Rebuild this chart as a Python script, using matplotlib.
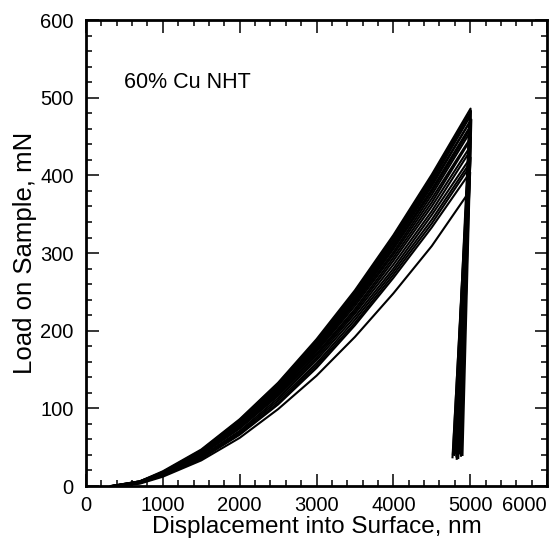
import matplotlib
matplotlib.use("Agg")
import matplotlib.pyplot as plt
from matplotlib.ticker import MultipleLocator

plt.rcParams['font.family'] = ['Liberation Sans', 'DejaVu Sans']

# displacement grid (nm) used for the loading branches; the last point is each curve's own peak
grid_disp = [700, 1000, 1500, 2000, 2500, 3000, 3500, 4000, 4500]

# start of contact (nm) for each test
start_disp = [350, 330, 370, 340, 360, 320, 380, 350, 340, 390, 360, 330, 400, 370, 350, 420, 380, 440]

# loads (mN) read at grid_disp for each test
load_at_grid = [
    [6, 19, 47, 86, 133, 189, 252, 323, 401],
    [6, 18, 46, 85, 132, 187, 250, 321, 398],
    [5, 18, 45, 83, 130, 185, 248, 318, 395],
    [6, 17, 44, 82, 128, 183, 246, 315, 392],
    [5, 17, 44, 81, 127, 181, 243, 313, 389],
    [6, 17, 44, 80, 126, 180, 241, 310, 386],
    [5, 16, 43, 80, 125, 178, 239, 307, 382],
    [5, 16, 43, 79, 124, 177, 237, 305, 379],
    [5, 16, 42, 78, 123, 175, 235, 301, 375],
    [5, 16, 42, 77, 121, 173, 232, 298, 370],
    [5, 16, 41, 76, 119, 170, 228, 294, 365],
    [5, 15, 41, 75, 118, 168, 225, 290, 360],
    [4, 15, 40, 74, 116, 165, 222, 285, 354],
    [4, 15, 38, 71, 113, 162, 218, 280, 349],
    [4, 14, 37, 69, 110, 158, 214, 276, 343],
    [4, 14, 36, 67, 107, 155, 210, 272, 338],
    [4, 13, 35, 66, 105, 152, 207, 268, 333],
    [3, 12, 33, 62, 99, 142, 192, 248, 309],
]

# peak of each test
peak_disp = [5005, 5010, 4995, 5000, 5015, 4990, 5005, 5000, 4995, 5010, 4985, 5000, 4990, 5005, 4995, 4985, 5000, 4960]
peak_load = [486, 483, 479, 476, 472, 468, 464, 460, 455, 449, 443, 437, 430, 423, 416, 410, 404, 375]

# end of each unloading branch
end_disp = [4860, 4890, 4820, 4870, 4900, 4790, 4845, 4815, 4775, 4880, 4805, 4855, 4770, 4835, 4795, 4850, 4825, 4810]
end_load = [42, 45, 38, 48, 40, 44, 36, 50, 41, 39, 46, 43, 37, 47, 40, 44, 35, 42]

fig = plt.figure(figsize=(5.55, 5.42), dpi=100)
ax = fig.add_axes([0.155, 0.1033, 0.8306, 0.8597])

for i in range(len(peak_load)):
    xs = [start_disp[i]] + grid_disp + [peak_disp[i], end_disp[i]]
    ys = [0] + load_at_grid[i] + [peak_load[i], end_load[i]]
    ax.plot(xs, ys, color='black', lw=1.5, solid_joinstyle='round')

ax.set_xlim(0, 6000)
ax.set_ylim(0, 600)
ax.xaxis.set_major_locator(MultipleLocator(1000))
ax.xaxis.set_minor_locator(MultipleLocator(200))
ax.yaxis.set_major_locator(MultipleLocator(100))
ax.yaxis.set_minor_locator(MultipleLocator(20))
ax.tick_params(which='both', direction='in', top=True, right=True, width=1.1, labelsize=14.5)
ax.tick_params(which='major', length=9)
ax.tick_params(which='minor', length=4.5)
ax.tick_params(axis='x', which='major', pad=7)
ax.tick_params(axis='y', which='major', pad=9)
for s in ax.spines.values():
    s.set_linewidth(2)

ax.set_xlabel('Displacement into Surface, nm', fontsize=17.5, labelpad=1)
ax.set_ylabel('Load on Sample, mN', fontsize=18.5, labelpad=2)
ax.text(490, 520, '60% Cu NHT', fontsize=15.5, va='center', ha='left')

# the last x tick label sits inside the figure edge
fig.canvas.draw()
for lab in ax.get_xticklabels():
    if lab.get_text() == '6000':
        lab.set_horizontalalignment('right')
        lab.set_x(6000)

fig.savefig('out.png', dpi=100)
